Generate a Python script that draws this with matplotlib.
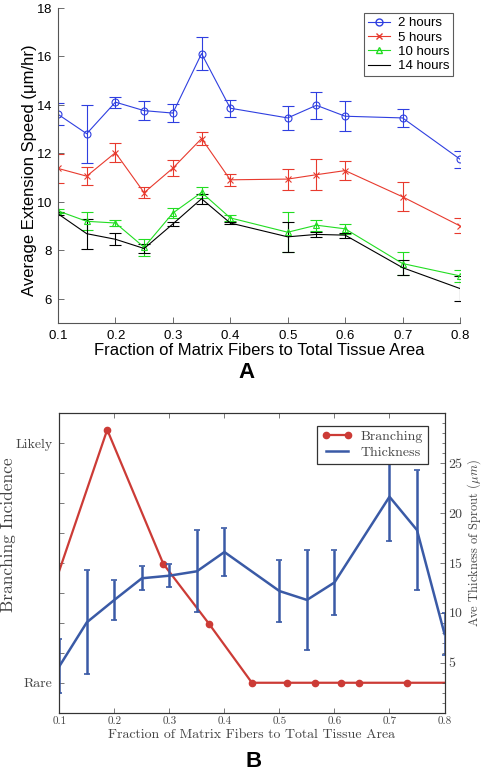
import matplotlib
matplotlib.use("Agg")
import matplotlib.pyplot as plt
from matplotlib.ticker import MultipleLocator
from matplotlib.lines import Line2D

# ---- panel A data (extension speed, um/hr) ----
frac = [0.1, 0.15, 0.2, 0.25, 0.3, 0.35, 0.4, 0.5, 0.55, 0.6, 0.7, 0.8]
h2 = [13.6, 12.8, 14.1, 13.75, 13.65, 16.1, 13.85, 13.45, 13.97, 13.52, 13.45, 11.75]
h2_err = [0.45, 1.2, 0.23, 0.4, 0.38, 0.67, 0.35, 0.5, 0.55, 0.62, 0.37, 0.35]
h5 = [11.37, 11.05, 12.02, 10.37, 11.38, 12.6, 10.9, 10.93, 11.11, 11.28, 10.2, 9.0]
h5_err = [0.6, 0.38, 0.4, 0.23, 0.34, 0.25, 0.25, 0.43, 0.63, 0.4, 0.6, 0.31]
h10 = [9.62, 9.19, 9.12, 8.12, 9.53, 10.38, 9.33, 8.74, 9.03, 8.88, 7.45, 6.94]
h10_err = [0.07, 0.37, 0.14, 0.34, 0.2, 0.22, 0.13, 0.82, 0.23, 0.2, 0.46, 0.24]
h14 = [9.5, 8.68, 8.45, 8.07, 9.08, 10.12, 9.12, 8.55, 8.65, 8.62, 7.28, 6.42]
h14_err = [0.06, 0.62, 0.24, 0.17, 0.08, 0.2, 0.05, 0.61, 0.12, 0.1, 0.3, 0.5]

# ---- panel B data ----
branch_x = [0.1, 0.187, 0.289, 0.372, 0.45, 0.513, 0.564, 0.611, 0.645, 0.731, 0.8]
branch_y = [4.75, 9.45, 4.97, 2.97, 1, 1, 1, 1, 1, 1, 1]
thick_x = [0.1, 0.15, 0.2, 0.25, 0.3, 0.35, 0.4, 0.5, 0.55, 0.6, 0.7, 0.75, 0.8]
thick_y = [4.65, 9.06, 11.3, 13.47, 13.73, 14.17, 16.1, 12.19, 11.3, 13.05, 21.64, 18.3, 7.9]
thick_err = [2.7, 5.2, 2.0, 1.22, 1.15, 4.1, 2.4, 3.1, 5.0, 3.3, 4.4, 6.0, 2.1]
xticks = [0.1, 0.2, 0.3, 0.4, 0.5, 0.6, 0.7, 0.8]

plt.rcParams['mathtext.fontset'] = 'cm'
plt.rcParams['axes.formatter.use_mathtext'] = True

fig = plt.figure(figsize=(4.84, 7.74), dpi=100)

# ================= panel A =================
sans = 'Liberation Sans'
ax = fig.add_axes([0.1198, 0.5827, 0.8306, 0.4076])
series = [
    (h2, h2_err, '#2f3fe0', 'o', '2 hours'),
    (h5, h5_err, '#e83a2e', 'x', '5 hours'),
    (h10, h10_err, '#22dd22', '^', '10 hours'),
    (h14, h14_err, 'black', None, '14 hours'),
]
for y, e, c, m, lab in series:
    ax.errorbar(frac, y, yerr=e, color=c, marker=m, markersize=5 if m != 'x' else 4,
                markerfacecolor='none', markeredgecolor=c, markeredgewidth=0.8,
                lw=0.8, elinewidth=0.8, capsize=4, capthick=0.8, label=lab)
ax.set_xlim(0.1, 0.8)
ax.set_ylim(5, 18)
ax.set_xticks(xticks)
ax.set_yticks([6, 8, 10, 12, 14, 16, 18])
ax.spines['top'].set_visible(False)
ax.spines['right'].set_visible(False)
for s in ['left', 'bottom']:
    ax.spines[s].set_color('#555555')
    ax.spines[s].set_linewidth(0.8)
ax.tick_params(direction='in', length=4, width=0.6, color='#555555', labelsize=9.5, pad=4)
for t in ax.get_xticklabels() + ax.get_yticklabels():
    t.set_fontfamily(sans)
ax.set_xlabel('Fraction of Matrix Fibers to Total Tissue Area', fontfamily=sans, fontsize=12, labelpad=1)
ax.set_ylabel('Average Extension Speed (\u03bcm/hr)', fontfamily=sans, fontsize=12)
ax.yaxis.set_label_coords(-0.052, 0.485)
handles = [Line2D([], [], color=c, marker=m, markersize=5 if m != 'x' else 4, markerfacecolor='none',
                  markeredgecolor=c, lw=0.8) for _, _, c, m, _ in series]
leg = ax.legend(handles, [s[4] for s in series], loc='upper right', bbox_to_anchor=(0.99, 0.99),
                prop={'family': sans, 'size': 9.5}, frameon=True, fancybox=False,
                borderpad=0.3, labelspacing=0.15, handlelength=1.7, handletextpad=0.6,
                borderaxespad=0.2)
leg.get_frame().set_edgecolor('#333333')
leg.get_frame().set_linewidth(0.8)

fig.text(0.51, 0.519, 'A', fontfamily=sans, fontweight='bold', fontsize=16, ha='center', va='center')

# ================= panel B =================
serif = 'cmr10'
gray = '#444444'
red = '#cc3b36'
blue = '#3a5aa6'
bx = fig.add_axes([0.1226, 0.0792, 0.7958, 0.3868])
ln1, = bx.plot(branch_x, branch_y, color=red, lw=1.6, marker='o', markersize=4.5,
               markevery=list(range(1, len(branch_x) - 1)))
bx.set_xlim(0.1, 0.8)
bx.set_ylim(0, 10)
bx.set_yticks(range(0, 11))
bx.set_yticklabels(['Rare' if v == 1 else 'Likely' if v == 9 else '' for v in range(0, 11)])
bx.set_xticks(xticks)
bx.set_xticklabels(['0.1', '0.2', '0.3', '0.4', '0.5', '0.6', '0.7', '0.8'])
bx.tick_params(direction='in', length=3.5, width=0.5, color=gray, top=True, labelcolor=gray)
bx.tick_params(axis='x', labelsize=8, pad=3)
bx.tick_params(axis='y', labelsize=10, pad=5)
for t in bx.get_xticklabels() + bx.get_yticklabels():
    t.set_fontfamily(serif)
bx.set_xlabel('Fraction of Matrix Fibers to Total Tissue Area', fontfamily=serif, fontsize=10,
              color=gray, labelpad=2)
bx.set_ylabel('Branching Incidence', fontfamily=serif, fontsize=12.5, color=gray)
bx.yaxis.set_label_coords(-0.113, 0.593)

tx = bx.twinx()
eb = tx.errorbar(thick_x, thick_y, yerr=thick_err, color=blue, lw=1.8, elinewidth=1.8,
                 capsize=2, capthick=1.2)
tx.set_ylim(0, 30)
tx.set_yticks([5, 10, 15, 20, 25])
tx.set_yticklabels(['5', '10', '15', '20', '25'])
tx.yaxis.set_minor_locator(MultipleLocator(1))
tx.tick_params(which='both', direction='in', color=gray, labelcolor=gray, width=0.5)
tx.tick_params(which='major', length=3.5, labelsize=10, pad=3)
tx.tick_params(which='minor', length=2)
for t in tx.get_yticklabels():
    t.set_fontfamily(serif)
tx.set_ylabel(r'Ave Thickness of Sprout ($\mu m$)', fontfamily=serif, fontsize=9, color=gray)
tx.yaxis.set_label_coords(1.053, 0.567)
for a in (bx, tx):
    for s in a.spines.values():
        s.set_color('#333333')
        s.set_linewidth(0.8)

h_branch = Line2D([], [], color=red, lw=1.6, marker='o', markersize=4.5)
h_thick = Line2D([], [], color=blue, lw=1.8)
leg2 = tx.legend([h_branch, h_thick], ['Branching', 'Thickness'], loc='upper right',
                 bbox_to_anchor=(0.975, 0.982), prop={'family': serif, 'size': 10},
                 frameon=True, fancybox=False, numpoints=2, borderpad=0.35,
                 labelspacing=0.2, handlelength=2.2, handletextpad=0.6, framealpha=1)
leg2.get_frame().set_edgecolor('#333333')
leg2.get_frame().set_linewidth(0.9)
for t in leg2.get_texts():
    t.set_color(gray)

fig.text(0.524, 0.0165, 'B', fontfamily=sans, fontweight='bold', fontsize=16, ha='center', va='center')

fig.savefig('out.png', dpi=100)
